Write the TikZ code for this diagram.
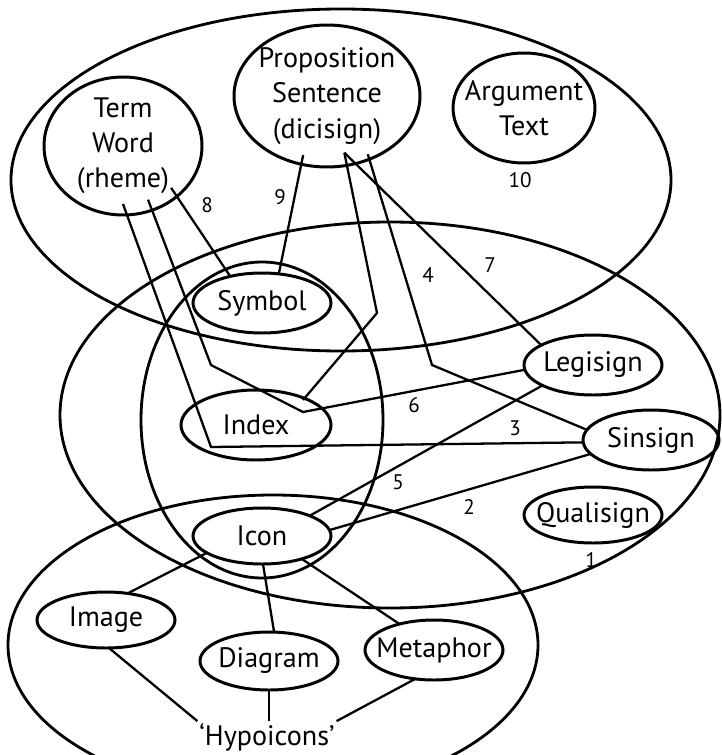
\documentclass[tikz,border=0pt]{standalone}
\usepackage{fontspec}
\setmainfont{PT Sans}
\usetikzlibrary{shapes.geometric,calc}

\begin{document}
\begin{tikzpicture}[y=-1cm,
  sign/.style={draw, ellipse, line width=1.7pt, inner xsep=-0.3cm, inner ysep=-0.1cm,
    outer sep=0pt, align=center, font=\fontsize{16}{20}\selectfont},
  num/.style={font=\fontsize{12}{14}\selectfont},
  link/.style={line width=1.3pt}]

\useasboundingbox (0,0) rectangle (14.42,15.1);

% the big ellipses:
\draw[line width=1.6pt] (6.82,3.6) ellipse (6.6cm and 3.42cm);
\draw[line width=1.6pt] (7.8,8.3) ellipse (6.6cm and 3.86cm);
\draw[line width=1.6pt] (5.24,8.4) ellipse (2.42cm and 3.16cm);
\draw[line width=1.6pt] (5.46,12.9) ellipse (5.3cm and 3.0cm);

% signs:
\node[sign, minimum width=3.16cm, minimum height=2.76cm] (term) at (2.46,2.92) {Term\\Word\\(rheme)};
\node[sign, minimum width=3.72cm, minimum height=2.84cm] (prop) at (6.54,1.92) {Proposition\\Sentence\\(dicisign)};
\node[sign, minimum width=2.84cm, minimum height=2.2cm] (arg) at (10.48,2.16) {Argument\\Text};
\node[sign, minimum width=2.76cm, minimum height=1.2cm] (symbol) at (5.24,6.06) {Symbol};
\node[sign, minimum width=3.0cm, minimum height=1.4cm] (index) at (5.12,8.5) {Index};
\node[sign, minimum width=2.76cm, minimum height=1.2cm] (legisign) at (11.86,7.3) {Legisign};
\node[sign, minimum width=2.72cm, minimum height=1.2cm] (sinsign) at (13.02,8.8) {Sinsign};
\node[sign, minimum width=2.76cm, minimum height=1.12cm] (icon) at (5.24,10.72) {Icon};
\node[sign, minimum width=2.76cm, minimum height=1.12cm] (qualisign) at (11.86,10.3) {Qualisign};
\node[sign, minimum width=2.76cm, minimum height=1.12cm] (image) at (2.12,12.4) {Image};
\node[sign, minimum width=2.76cm, minimum height=1.16cm] (diagram) at (5.38,13.22) {Diagram};
\node[sign, minimum width=2.76cm, minimum height=1.2cm] (metaphor) at (8.68,13.0) {Metaphor};
\node[font=\fontsize{16}{20}\selectfont, inner sep=1pt] (hypo) at (5.34,14.74) {`Hypoicons'};

% numbers:
\node[num] (n1) at (11.82,11.2) {1};
\node[num] (n2) at (9.38,10.14) {2};
\node[num] (n3) at (10.3,8.56) {3};
\node[num] (n4) at (8.56,5.5) {4};
\node[num] (n5) at (7.96,9.64) {5};
\node[num] (n6) at (8.28,8.1) {6};
\node[num] (n7) at (9.8,5.3) {7};
\node[num] (n8) at (4.14,4.1) {8};
\node[num] (n9) at (5.6,3.94) {9};
\node[num] (n10) at (10.4,3.6) {10};

% bends:
\coordinate (b3) at (4.22,8.94);
\coordinate (b6) at (4.22,7.3);
\coordinate (bA) at (7.54,6.26);
\coordinate (b4) at (8.64,7.3);
\coordinate (i6) at ($(index.center)+(0.94,-0.26)$);
\coordinate (iA) at ($(index.center)+(0.94,-0.5)$);

% links:
\draw[link] ($(term.center)!0.84!(term.-90)$) -- (b3) -- (sinsign.182);
\draw[link] ($(term.center)!0.84!(term.-65)$) -- (b6) -- (i6) -- (legisign.184);
\draw[link] ($(term.center)!0.86!(term.-41)$) -- (symbol.140);
\draw[link] ($(prop.center)!0.87!(prop.-112)$) -- (symbol.60);
\draw[link] ($(prop.center)!0.82!(prop.-73)$) -- (bA) -- (iA);
\draw[link] ($(prop.center)!0.82!(prop.-73)$) -- (legisign.159);
\draw[link] ($(prop.center)!0.93!(prop.-55)$) -- (b4) -- (sinsign.171);
\draw[link] (legisign.202) -- (icon.23);
\draw[link] (sinsign.193) -- (icon.5);
\draw[link] (icon.197) -- (image.51);
\draw[link] (icon.-88) -- (diagram.80);
\draw[link] (icon.-30) -- (metaphor.143);
\draw[link] (image.-84) -- (hypo.north west);
\draw[link] (diagram.south) -- (diagram.south |- hypo.north);
\draw[link] (metaphor.-123) -- (hypo.north east);

\end{tikzpicture}
\end{document}
